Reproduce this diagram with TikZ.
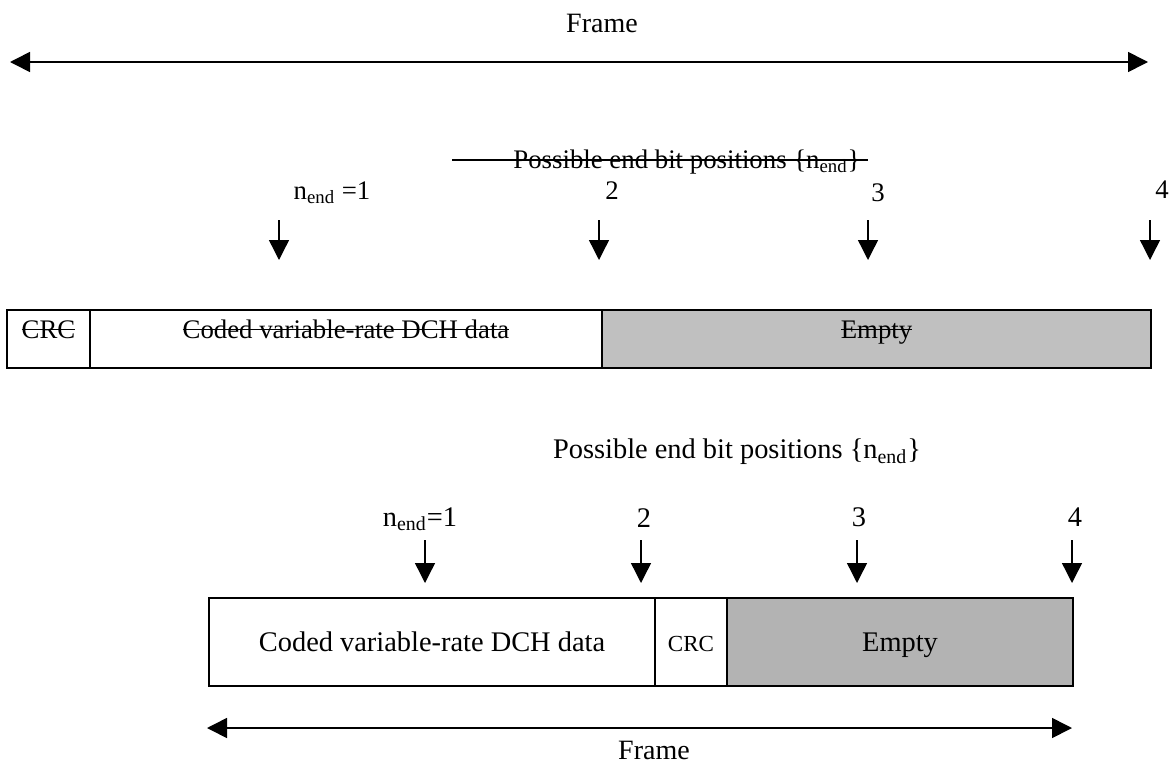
\documentclass[tikz,border=0pt]{standalone}
\usepackage{fontspec}
\setmainfont{Liberation Serif}
\usetikzlibrary{arrows.meta,positioning}

\definecolor{grayA}{HTML}{C0C0C0}
\definecolor{grayB}{HTML}{B3B3B3}
\newcommand{\strk}[1]{\setbox0\hbox{#1}\rlap{\rule[0.3em]{\wd0}{0.6pt}}\box0}

\begin{document}
\begin{tikzpicture}[x=0.5pt,y=-0.5pt,
    >={Triangle[length=10pt,width=10pt]}]
  \useasboundingbox (0,0) rectangle (1172,771);

  % upper frame
  \coordinate (frameAl) at (10,62);
  \coordinate (frameAr) at (1148,62);
  \draw[<->, line width=0.8pt] (frameAl) -- (frameAr);
  \node[font=\fontsize{14}{16}\selectfont] (frameA) at (602,23) {Frame};

  \begin{scope}[every node/.style={font=\fontsize{13.4}{15}\selectfont}]
    \node[anchor=base] (possA) at (687,168) {Possible end bit positions \{n\textsubscript{end}\}};
    \coordinate (strikeA) at (452,160);
    \draw[line width=0.8pt] (strikeA) -- (strikeA -| possA.east);
    \node (nA1) at (332,193) {n\textsubscript{end} =1};
    \node (nA2) at (612,191) {2};
    \node (nA3) at (878,193) {3};
    \node (nA4) at (1162,190) {4};
  \end{scope}

  \foreach \x [count=\i] in {279,599,868,1150} {
    \coordinate (topA\i) at (\x,220);
    \coordinate (tipA\i) at (\x,260);
    \draw[->, line width=0.7pt] (topA\i) -- (tipA\i);
  }

  \begin{scope}[every node/.style={draw, line width=1pt, inner sep=0pt, outer sep=0pt,
      minimum height=29pt, text height=14pt, text depth=15pt,
      font=\fontsize{13.4}{15}\selectfont}]
    \node[anchor=north west, minimum width=41.5pt] (crcA) at (7,310) {\strk{CRC}};
    \node[right=0pt of crcA, minimum width=256pt] (dataA) {\strk{Coded variable-rate DCH data}};
    \node[right=0pt of dataA, minimum width=274.5pt, fill=grayA] (emptyA) {\strk{Empty}};
  \end{scope}

  % lower frame
  \begin{scope}[every node/.style={font=\fontsize{14.2}{16}\selectfont}]
    \node (possB) at (737,452) {Possible end bit positions \{n\textsubscript{end}\}};
    \node (nB1) at (420,519) {n\textsubscript{end}=1};
    \node (nB2) at (644,518) {2};
    \node (nB3) at (859,517) {3};
    \node (nB4) at (1075,517) {4};
  \end{scope}

  \foreach \x [count=\i] in {425,641,857,1072} {
    \coordinate (topB\i) at (\x,540);
    \coordinate (tipB\i) at (\x,583);
    \draw[->, line width=0.7pt] (topB\i) -- (tipB\i);
  }

  \begin{scope}[every node/.style={draw, line width=0.7pt, inner sep=0pt, outer sep=0pt,
      minimum height=44pt, text height=26.5pt, text depth=17.5pt,
      font=\fontsize{14.2}{16}\selectfont}]
    \node[anchor=north west, minimum width=223pt] (dataB) at (209,598) {Coded variable-rate DCH data};
    \node[right=0pt of dataB, minimum width=36pt, font=\fontsize{11.5}{13}\selectfont] (crcB) {CRC};
    \node[right=0pt of crcB, minimum width=173pt, fill=grayB] (emptyB) {Empty};
  \end{scope}

  \coordinate (frameBl) at (207,728);
  \coordinate (frameBr) at (1072,728);
  \draw[<->, line width=0.8pt] (frameBl) -- (frameBr);
  \node[font=\fontsize{14}{16}\selectfont] (frameB) at (654,750) {Frame};
\end{tikzpicture}
\end{document}
